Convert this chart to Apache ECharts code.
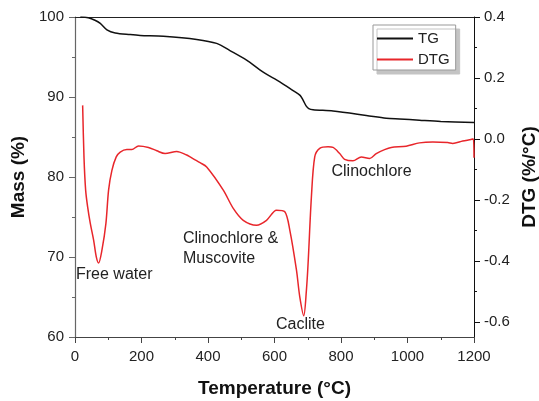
<!DOCTYPE html>
<html>
<head>
<meta charset="utf-8">
<script src="https://cdn.jsdelivr.net/npm/echarts@6/dist/echarts.min.js"></script>
<style>html,body{margin:0;padding:0;background:#fff;overflow:hidden}#c{width:539px;height:401px}</style>
</head>
<body>
<div id="c"></div>
<script>
// ---- data ----
const tgTemp = [16, 40, 60, 76, 96, 121, 166, 196, 266, 366, 426, 466, 516, 566, 616, 656, 677, 686, 695, 703, 716, 776, 876, 936, 976, 1036, 1100, 1200];
const tgMass = [100, 99.9, 99.6, 99.2, 98.4, 98.0, 97.8, 97.7, 97.6, 97.2, 96.7, 95.8, 94.6, 93.1, 91.9, 90.8, 90.2, 89.6, 88.9, 88.55, 88.4, 88.25, 87.7, 87.35, 87.25, 87.1, 86.95, 86.8];

const dtgTemp = [23, 27, 32, 38, 46, 56, 64, 71, 81, 93, 101, 111, 124, 136, 156, 171, 191, 221, 246, 271, 306, 336, 346, 376, 396, 446, 476, 506, 546, 576, 606, 631, 646, 666, 676, 688, 696, 701, 711, 721, 736, 761, 776, 796, 811, 836, 861, 886, 906, 931, 951, 996, 1036, 1076, 1121, 1136, 1166, 1191, 1198, 1200];
const dtgVal = [0.110, -0.059, -0.168, -0.223, -0.277, -0.332, -0.387, -0.407, -0.365, -0.277, -0.168, -0.103, -0.059, -0.043, -0.035, -0.035, -0.023, -0.028, -0.039, -0.048, -0.041, -0.053, -0.059, -0.078, -0.092, -0.168, -0.228, -0.267, -0.283, -0.267, -0.234, -0.239, -0.299, -0.430, -0.518, -0.580, -0.496, -0.409, -0.190, -0.059, -0.031, -0.026, -0.028, -0.048, -0.067, -0.072, -0.059, -0.064, -0.048, -0.035, -0.028, -0.024, -0.013, -0.010, -0.012, -0.015, -0.007, -0.002, 0.000, -0.062];

const leftTicks = [60, 70, 80, 90, 100];
const rightMajor = [-0.6, -0.4, -0.2, 0, 0.2, 0.4];
const rightMinor = [-0.5, -0.3, -0.1, 0.1, 0.3];
const xTicks = [0, 200, 400, 600, 800, 1000, 1200];

const seriesNames = ['TG', 'DTG'];
const annotations = ['Free water', 'Clinochlore &', 'Muscovite', 'Caclite', 'Clinochlore'];

// ---- chart ----
const FONT = '"Liberation Sans", Arial, Helvetica, sans-serif';
const chart = echarts.init(document.getElementById('c'), null, {renderer: 'canvas'});
const tgData = tgTemp.map((t, i) => [t, tgMass[i]]);
const dtgData = dtgTemp.map((t, i) => [t, dtgVal[i]]);

const lbl = {color: '#222', fontSize: 15, fontFamily: FONT};
const nameStyle = {color: '#111', fontSize: 19, fontWeight: 'bold', fontFamily: FONT};

chart.setOption({
  animation: false,
  backgroundColor: '#fff',
  grid: {left: 75, right: 65, top: 17, bottom: 64, containLabel: false, outerBoundsMode: 'none'},
  xAxis: [{
    type: 'value', min: 0, max: 1200, interval: 200,
    name: 'Temperature (°C)', nameLocation: 'middle', nameGap: 42, nameTextStyle: nameStyle,
    axisLine: {show: true, onZero: false, lineStyle: {color: '#444', width: 1}},
    axisTick: {show: true, length: 6, lineStyle: {color: '#444'}},
    minorTick: {show: true, splitNumber: 2, length: 3, lineStyle: {color: '#444'}},
    axisLabel: Object.assign({margin: 12, formatter: v => String(v)}, lbl),
    splitLine: {show: false}
  }, {
    type: 'value', min: 0, max: 1200, position: 'top',
    axisLine: {show: true, onZero: false, lineStyle: {color: '#222', width: 1}},
    axisTick: {show: false}, axisLabel: {show: false}, splitLine: {show: false}
  }],
  yAxis: [{
    type: 'value', min: 60, max: 100, interval: 10, position: 'left',
    name: 'Mass (%)', nameLocation: 'middle', nameGap: 46, nameTextStyle: nameStyle,
    axisLine: {show: true, onZero: false, lineStyle: {color: '#666', width: 1.2}},
    axisTick: {show: true, length: 6, lineStyle: {color: '#666'}},
    minorTick: {show: true, splitNumber: 2, length: 3, lineStyle: {color: '#666'}},
    axisLabel: Object.assign({margin: 11}, lbl),
    splitLine: {show: false}
  }, {
    type: 'value', min: -0.65, max: 0.4, position: 'right',
    name: 'DTG (%/°C)', nameLocation: 'middle', nameGap: 42, nameTextStyle: nameStyle,
    axisLine: {show: true, onZero: false, lineStyle: {color: '#111', width: 1}},
    axisTick: {show: true, length: 6, customValues: rightMajor, lineStyle: {color: '#111'}},
    axisLabel: Object.assign({margin: 10, customValues: rightMajor, formatter: v => v.toFixed(1)}, lbl),
    splitLine: {show: false}
  }, {
    type: 'value', min: -0.65, max: 0.4, position: 'right',
    axisLine: {show: false, onZero: false},
    axisTick: {show: true, length: 3, customValues: rightMinor, lineStyle: {color: '#111'}},
    axisLabel: {show: false},
    splitLine: {show: false}
  }],
  legend: {
    data: seriesNames,
    orient: 'vertical', left: 373, top: 25,
    padding: [5, 6, 2, 4], itemGap: 4,
    itemWidth: 36, itemHeight: 2, icon: 'rect',
    backgroundColor: '#fff', borderColor: '#999', borderWidth: 1,
    shadowColor: '#c4c4c4', shadowBlur: 0, shadowOffsetX: 4, shadowOffsetY: 4,
    textStyle: {color: '#222', fontSize: 15, fontFamily: FONT, lineHeight: 17}
  },
  series: [{
    name: seriesNames[0], type: 'line', xAxisIndex: 0, yAxisIndex: 0,
    data: tgData, symbol: 'none', smooth: 0.3,
    lineStyle: {color: '#111', width: 1.5}, itemStyle: {color: '#111'}
  }, {
    name: seriesNames[1], type: 'line', xAxisIndex: 0, yAxisIndex: 1,
    data: dtgData, symbol: 'none', smooth: 0.3,
    lineStyle: {color: '#e8262b', width: 1.5}, itemStyle: {color: '#e8262b'}
  }],
  graphic: [
    {type: 'text', x: 76, y: 275, style: {text: annotations[0], font: '16px ' + FONT, fill: '#222', textVerticalAlign: 'middle'}},
    {type: 'text', x: 183, y: 238.5, style: {text: annotations[1], font: '16px ' + FONT, fill: '#222', textVerticalAlign: 'middle'}},
    {type: 'text', x: 183, y: 258.5, style: {text: annotations[2], font: '16px ' + FONT, fill: '#222', textVerticalAlign: 'middle'}},
    {type: 'text', x: 276, y: 325, style: {text: annotations[3], font: '16px ' + FONT, fill: '#222', textVerticalAlign: 'middle'}},
    {type: 'text', x: 331.5, y: 172, style: {text: annotations[4], font: '16px ' + FONT, fill: '#222', textVerticalAlign: 'middle'}}
  ]
});
</script>
</body>
</html>
